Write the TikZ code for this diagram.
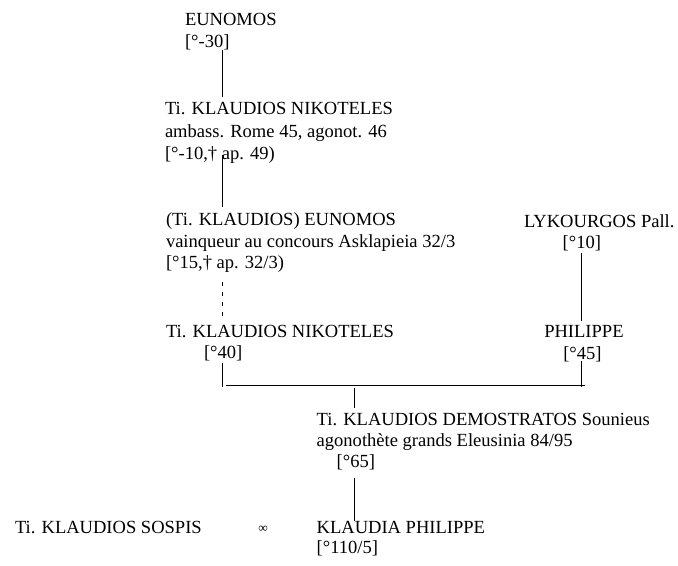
\documentclass[tikz,border=0pt]{standalone}
\usepackage{fontspec}
\setmainfont{Liberation Serif}
\usepackage{tikz}
\usetikzlibrary{calc}
\tikzset{
  person/.style={anchor=base west, inner sep=0pt, outer sep=0pt,
    font=\fontsize{13.9pt}{16.5pt}\selectfont},
  kin/.style={line width=0.7pt, color=black},
  kindash/.style={kin, dash pattern=on 3pt off 4.5pt}
}

\begin{document}
\begin{tikzpicture}[x=0.75pt, y=-0.75pt]
  \useasboundingbox (0,0) rectangle (678,565);
  % axes of the lines
  \coordinate (tr) at (222.7,0);
  \coordinate (rt) at (581.7,0);
  \coordinate (md) at (354.3,0);
  \coordinate (barl) at (226,385);
  \coordinate (barr) at (585,385);

  % first generations
  \node[person] (e1) at (185,25) {EUNOMOS};
  \node[person] (e1d) at (185,47) {[°-30]};
  \node[person] (n1) at (165,114) {Ti. KLAUDIOS NIKOTELES};
  \node[person] (n1a) at (165,137) {ambass. Rome 45, agonot. 46};
  \node[person] (n1d) at (165,159) {[°-10,† ap. 49)};
  \node[person] (eu) at (166,225) {(Ti. KLAUDIOS) EUNOMOS};
  \node[person] (eua) at (166,247) {vainqueur au concours Asklapieia 32/3};
  \node[person] (eud) at (166,268) {[°15,† ap. 32/3)};
  \node[person] (n2) at (166,337) {Ti. KLAUDIOS NIKOTELES};
  \node[person] (n2d) at (204,358) {[°40]};

  % other side
  \node[person] (ly) at (524,227) {LYKOURGOS Pall.};
  \node[person] (lyd) at (562.7,248) {[°10]};
  \node[person] (ph) at (544.3,337) {PHILIPPE};
  \node[person] (phd) at (563.3,359) {[°45]};

  % children
  \node[person] (de) at (316.7,425) {Ti. KLAUDIOS DEMOSTRATOS Sounieus};
  \node[person] (dea) at (316.7,446) {agonothète grands Eleusinia 84/95};
  \node[person] (ded) at (336.7,467) {[°65]};
  \node[person] (kl) at (316.7,533) {KLAUDIA PHILIPPE};
  \node[person] (kld) at (316.7,553) {[°110/5]};
  \node[person] (so) at (15,533) {Ti. KLAUDIOS SOSPIS};
  \node[anchor=center, inner sep=0pt, font=\fontsize{10pt}{12pt}\selectfont] (inf) at (263,529) {∞};

  \draw[kin] ($(e1d.south -| tr)+(0,1)$) -- ($(n1.north -| tr)+(0,-5)$);
  \draw[kin] (n1d.center -| tr) -- ($(eu.north -| tr)+(0,-5)$);
  \draw[kindash] ($(eud.south -| tr)+(0,10)$) -- ($(n2.north -| tr)+(0,-6)$);
  \draw[kin] ($(n2d.south -| tr)+(0,3)$) -- ($(barl -| tr)+(0,2)$);
  \draw[kin] ($(lyd.south -| rt)+(0,3)$) -- ($(ph.north -| rt)+(0,-4)$);
  \draw[kin] (phd.south -| rt) -- ($(barr -| rt)+(0,2)$);
  \draw[kin] (barl) -- (barr);
  \draw[kin] ($(barl -| md)+(0,3)$) -- ($(de.north -| md)+(0,-5)$);
  \draw[kin] ($(ded.south -| md)+(0,9)$) -- (kl.north -| md);
\end{tikzpicture}
\end{document}
